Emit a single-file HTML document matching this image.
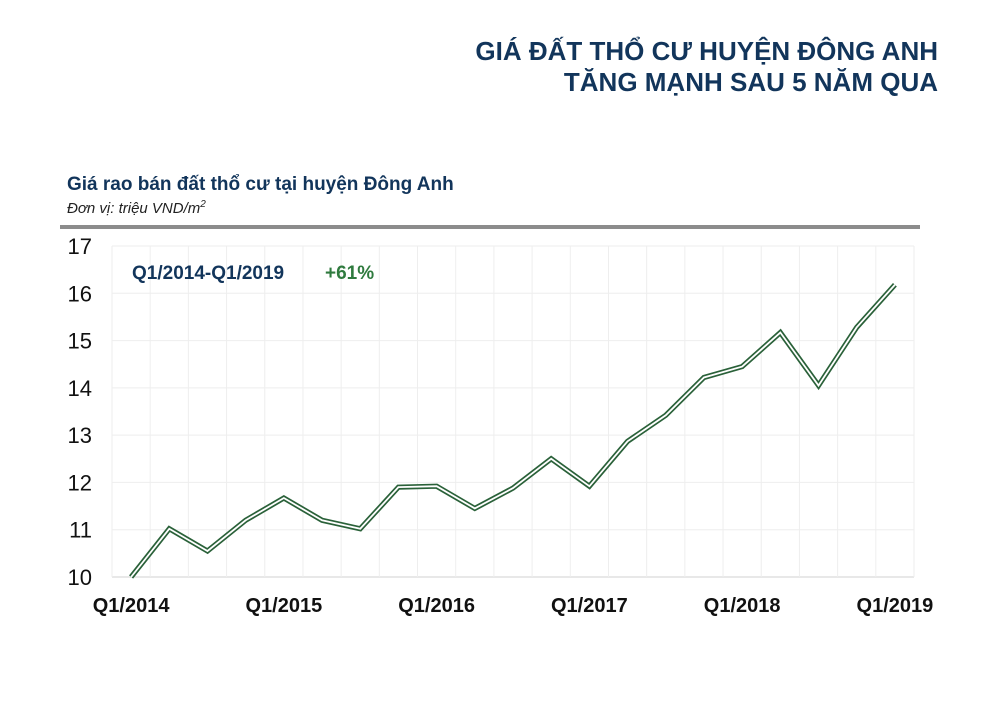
<!DOCTYPE html>
<html><head><meta charset="utf-8"><style>
body{margin:0;width:1000px;height:712px;background:#fff;font-family:"Liberation Sans",sans-serif;overflow:hidden;position:relative}
.t{position:absolute;right:62px;text-align:right;color:#12355b;font-weight:bold;font-size:26px;line-height:31px;top:36px}
.st{position:absolute;left:67px;top:174px;color:#12355b;font-weight:bold;font-size:19px}
.u{position:absolute;left:67px;top:199px;color:#222;font-style:italic;font-size:15px}
</style></head><body>
<div class="t">GIÁ ĐẤT THỔ CƯ HUYỆN ĐÔNG ANH<br>TĂNG MẠNH SAU 5 NĂM QUA</div>
<div class="st">Giá rao bán đất thổ cư tại huyện Đông Anh</div>
<div class="u">Đơn vị: triệu VND/m<sup style="font-size:10px">2</sup></div>
<svg id="c" width="1000" height="712" style="position:absolute;left:0;top:0">
<rect x="60" y="225" width="860" height="4" fill="#8c8c8c"/>
</svg>
<script>
const categories=["Q1/2014","Q2/2014","Q3/2014","Q4/2014","Q1/2015","Q2/2015","Q3/2015","Q4/2015","Q1/2016","Q2/2016","Q3/2016","Q4/2016","Q1/2017","Q2/2017","Q3/2017","Q4/2017","Q1/2018","Q2/2018","Q3/2018","Q4/2018","Q1/2019"];
const values=[10.0,11.02,10.55,11.2,11.67,11.2,11.02,11.9,11.92,11.45,11.88,12.5,11.92,12.87,13.42,14.22,14.45,15.17,14.05,15.28,16.18];
const yTicks=[10,11,12,13,14,15,16,17];
const xLabelIdx=[0,4,8,12,16,20];
const L=112,R=914,T=246,B=577,yMin=10,yMax=17;
const bw=(R-L)/categories.length;
const X=i=>L+bw*(i+0.5);
const Y=v=>B-(v-yMin)/(yMax-yMin)*(B-T);
const s=document.getElementById('c');const NS='http://www.w3.org/2000/svg';
function mk(tag,a){const e=document.createElementNS(NS,tag);for(const k in a)e.setAttribute(k,a[k]);s.appendChild(e);return e;}
yTicks.forEach(v=>{
 const g=mk('line',{x1:L,x2:R,y1:Y(v),y2:Y(v),stroke:v===yMin?'#d0d0d0':'#eeeeee','stroke-width':1});
 
 
 const t=mk('text',{x:92,y:Y(v)+8,'text-anchor':'end','font-size':22,fill:'#111'});t.textContent=v;
 
 
});
for(let i=0;i<=categories.length;i++){
 const g=mk('line',{x1:L+bw*i,x2:L+bw*i,y1:T,y2:B,stroke:'#eeeeee','stroke-width':1});
 
 
}
xLabelIdx.forEach(i=>{
 const t=mk('text',{x:X(i),y:612,'text-anchor':'middle','font-size':20,'font-weight':'bold',fill:'#111'});t.textContent=categories[i];
 
 
});
const pts=values.map((v,i)=>X(i)+','+Y(v)).join(' ');
const o=mk('polyline',{points:pts,fill:'none',stroke:'#2a6139','stroke-width':5.2,'stroke-linejoin':'miter'});


const n=mk('polyline',{points:pts,fill:'none',stroke:'#ffffff','stroke-width':1.8,'stroke-linejoin':'miter'});


const a=mk('text',{x:132,y:279,'font-size':19,'font-weight':'bold',fill:'#12355b'});a.textContent='Q1/2014-Q1/2019';


const b=mk('text',{x:325,y:279,'font-size':19,'font-weight':'bold',fill:'#2f7a3e'});b.textContent='+61%';


</script>
</body></html>
